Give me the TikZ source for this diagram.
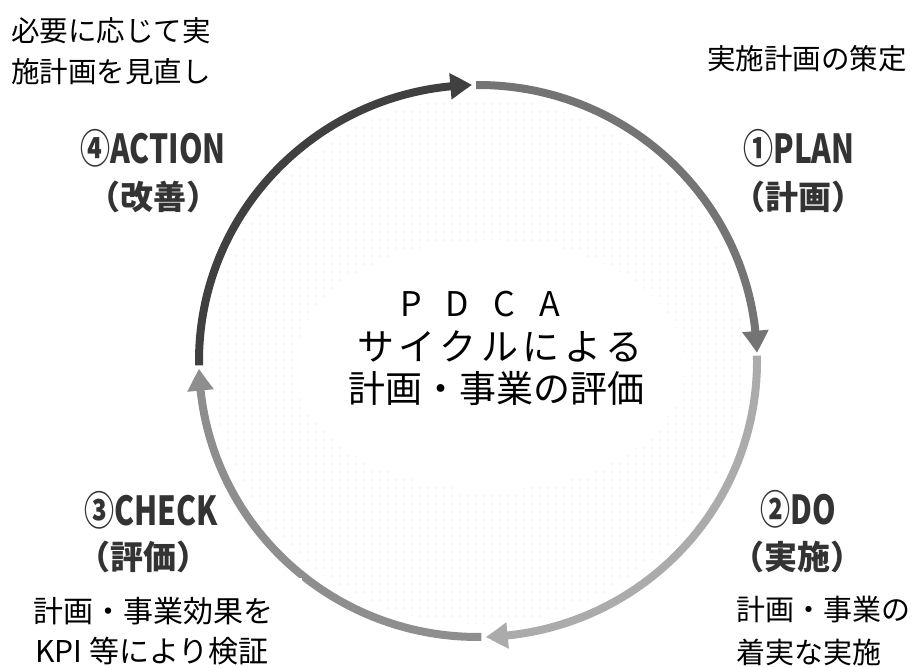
\documentclass[tikz,border=0pt]{standalone}
\usepackage{fontspec}
\setmainfont{Noto Sans CJK JP}
\newfontfamily\lblfont{Noto Sans CJK JP}
\usetikzlibrary{arrows.meta,bending,patterns,calc}
\pgfdeclarepatternformonly{sparsedots}{\pgfqpoint{-1pt}{-1pt}}{\pgfqpoint{9pt}{9pt}}{\pgfqpoint{8pt}{8pt}}{\pgfpathcircle{\pgfqpoint{4pt}{4pt}}{0.7pt}\pgfusepath{fill}}
\definecolor{cAct}{HTML}{404040}
\definecolor{cPlan}{HTML}{747474}
\definecolor{cDo}{HTML}{ABABAB}
\definecolor{cChk}{HTML}{8E8E8E}
\tikzset{
  cyc/.style={line width=8pt, -{Triangle[length=22pt,width=25pt,bend]}},
  desc/.style={font=\fontsize{28.5}{34}\selectfont, inner sep=0pt},
  descb/.style={font=\fontsize{30}{36}\selectfont, inner sep=0pt},
  stage/.style={font=\lblfont\bfseries\fontsize{40}{44}\selectfont, text=black!80, inner sep=0pt},
  stagej/.style={font=\lblfont\bfseries\fontsize{33}{38}\selectfont, text=black!80, inner sep=0pt},
  ctr/.style={font=\fontsize{37}{44}\selectfont, inner sep=0pt},
}
\begin{document}
\begin{tikzpicture}[x=1pt,y=1pt]
\useasboundingbox (0,0) rectangle (917,668);
\coordinate (C) at (478,307);
% dotted interior
\fill[pattern=sparsedots, pattern color=gray!40, even odd rule]
  (C) ellipse[x radius=266, y radius=263]
  (490,303) ellipse[x radius=195, y radius=125];
% cycle arcs
\draw[cyc, draw=cAct] ($(C)+(180.9:279 and 276)$) arc[start angle=180.9, end angle=91.2, x radius=279, y radius=276];
\draw[cyc, draw=cPlan] ($(C)+(90.4:279 and 276)$) arc[start angle=90.4, end angle=1.7, x radius=279, y radius=276];
\draw[cyc, draw=cDo] ($(C)+(1.1:279 and 276)$) arc[start angle=1.1, end angle=-88.4, x radius=279, y radius=276];
\draw[cyc, draw=cChk] ($(C)+(-89.3:279 and 276)$) arc[start angle=-89.3, end angle=-178.4, x radius=279, y radius=276];
\fill[white] (0,0) rectangle (302,90);
% center title
\node[ctr, font=\fontsize{34}{40}\selectfont] (t1) at (480,364) {\makebox[160pt][s]{P\hfil D\hfil C\hfil A}};
\node[ctr] (t2) at (500,322) {\makebox[286pt][s]{サ\hfil イ\hfil ク\hfil ル\hfil に\hfil よ\hfil る}};
\node[ctr] (t3) at (496,280) {計画・事業の評価};
% corner descriptions
\node[desc, anchor=west] (a1) at (11,637) {必要に応じて実};
\node[desc, anchor=west] (a2) at (11,596) {施計画を見直し};
\node[desc, anchor=east] (p1) at (907,609) {実施計画の策定};
\node[descb, anchor=west] (c1) at (33,57) {計画・事業効果を};
\node[descb, anchor=west] (c2) at (35,17) {KPI 等により検証};
\node[descb, font=\fontsize{29}{34}\selectfont, anchor=west] (d1) at (736,58) {計画・事業の};
\node[descb, font=\fontsize{29}{34}\selectfont, anchor=west] (d2) at (736,16) {着実な実施};
% stage labels
\node[stage] (s4) at (153,520) {\scalebox{0.75}[1]{④ACTION}};
\node[stagej] (s4j) at (153,471) {（改善）};
\node[stage] (s1) at (799,520) {\scalebox{0.75}[1]{①PLAN}};
\node[stagej] (s1j) at (798,471) {（計画）};
\node[stage] (s3) at (151,158) {\scalebox{0.75}[1]{③CHECK}};
\node[stagej] (s3j) at (143,111) {（評価）};
\node[stage] (s2) at (798,159) {\scalebox{0.75}[1]{②DO}};
\node[stagej] (s2j) at (797,111) {（実施）};
\end{tikzpicture}
\end{document}
